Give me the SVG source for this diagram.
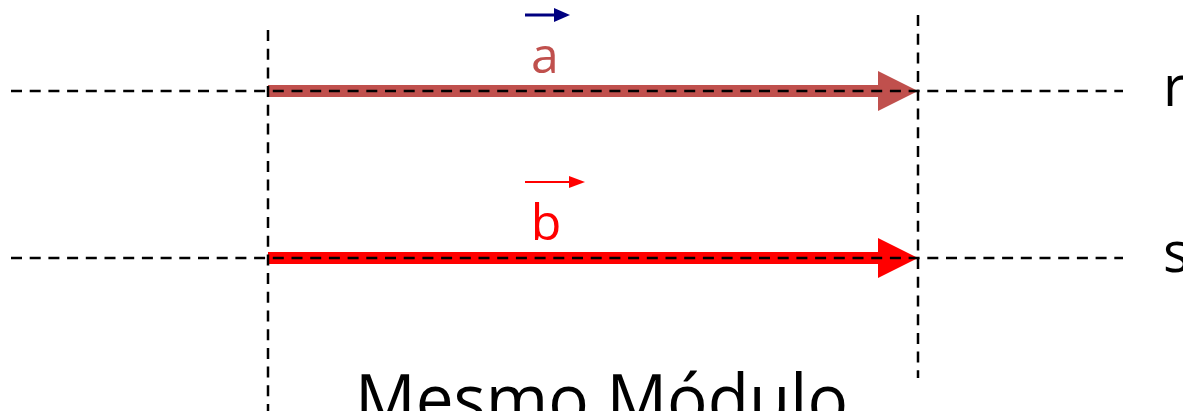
<svg xmlns="http://www.w3.org/2000/svg" width="1183" height="411" viewBox="0 0 1183 411">
<style>
.dash{stroke:#000;stroke-width:2.5;stroke-dasharray:11 7.7;fill:none}
.lbl{font-family:"Open Sans","Liberation Sans",sans-serif}
</style>
<rect width="1183" height="411" fill="#fff"/>
<g id="vector-a">
<rect x="268" y="85" width="612" height="12" fill="#C0504D"/>
<polygon points="878,71 918,91 878,111" fill="#C0504D"/>
<text class="lbl" x="545" y="73" font-size="50" fill="#C0504D" text-anchor="middle">a</text>
<line x1="525" y1="15" x2="556" y2="15" stroke="#000080" stroke-width="3"/>
<polygon points="554,8 570,15 554,22" fill="#000080"/>
</g>
<g id="vector-b">
<rect x="268" y="252" width="612" height="12" fill="#FF0000"/>
<polygon points="878,238 918,258 878,278" fill="#FF0000"/>
<text class="lbl" x="546" y="240" font-size="50" fill="#FF0000" text-anchor="middle">b</text>
<line x1="525" y1="182" x2="571" y2="182" stroke="#FF0000" stroke-width="2"/>
<polygon points="569,176 585,182 569,188" fill="#FF0000"/>
</g>
<g id="connectors">
<line class="dash" x1="11" y1="91" x2="1123" y2="91"/>
<line class="dash" x1="11" y1="258" x2="1123" y2="258"/>
<line class="dash" x1="268" y1="30" x2="268" y2="411"/>
<line class="dash" x1="918" y1="15" x2="918" y2="378"/>
</g>
<g id="labels">
<text class="lbl" x="1163" y="106" font-size="56" fill="#000">r</text>
<text class="lbl" x="1163" y="272" font-size="56" fill="#000">s</text>
<text class="lbl" x="355" y="424" font-size="70" fill="#000" textLength="493" lengthAdjust="spacingAndGlyphs">Mesmo Módulo</text>
</g>
</svg>
